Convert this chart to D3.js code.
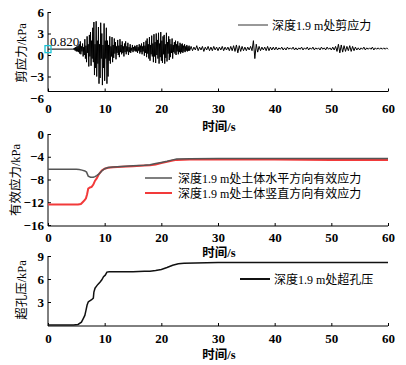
<!DOCTYPE html>
<html><head><meta charset="utf-8">
<script src="https://cdn.jsdelivr.net/npm/d3@7"></script>
<style>
body{margin:0;background:#fff;}
svg{display:block;}
</style></head><body>
<svg id="c" width="406" height="365"></svg>
<script>
// ---------- data ----------
const xTicks = [0, 10, 20, 30, 40, 50, 60];
const shearTicks = [6, 3, 0, -3, -6];
const effTicks = [0, -4, -8, -12, -16];
const poreTicks = [3, 6, 9];

// shear stress: quiet start
const shearQuietTime = [0, 4.4];
const shearQuietVal = [0.82, 0.82];
// strong shaking, samples every 0.1 s from 4.5 s
const shearAStart = 4.5, shearAStep = 0.1;
const shearAVal = [
 0.9,0.7,1.0,0.6,1.1,0.5,1.2,0.5,1.3,0.4,
 1.5,0.2,1.9,0.1,1.2,0.5,1.6,-0.2,1.1,0.0,
 2.2,-0.5,1.3,-1.0,2.6,0.3,1.5,-1.6,2.8,-0.2,
 3.2,-1.5,2.0,-0.5,3.8,-1.0,4.6,-2.8,1.5,-1.8,
 4.7,-3.0,2.0,-1.2,3.9,-4.0,1.5,-3.2,4.5,-0.5,
 3.0,-4.2,1.4,-1.8,4.4,-3.6,2.0,-0.5,3.8,-4.0,
 2.0,-3.0,1.4,-0.8,2.6,-1.2,1.2,-0.2,2.5,-1.0,
 1.4,-0.4,2.3,0.2,1.8,-0.6,1.2,0.3,2.1,0.0,
 1.3,-0.3,2.2,0.4,1.4,0.1,1.9,0.3,1.2,-0.2,
 1.6,0.4,1.9,0.1,1.2,0.5,1.7,0.0,1.1,0.4,
 1.5,0.3,1.0,0.6,1.4,0.4,1.1,0.6,1.3,0.5,
 1.2,0.5,1.4,0.3,1.1,0.6,1.5,0.2,1.3,0.4,
 1.6,0.1,1.2,0.5,1.8,-0.1,1.3,0.3,2.0,-0.3,
 2.3,0.2,1.5,-0.5,2.5,-0.8,1.4,0.1,2.7,-0.2,
 1.6,-1.0,2.9,-0.2,1.8,-1.1,3.0,0.0,2.1,-0.5,
 3.1,-1.2,1.6,-0.3,3.2,-0.8,2.0,-1.1,2.6,0.1,
 2.8,-1.2,1.5,-0.4,3.1,-0.9,1.8,0.2,2.6,-0.7,
 2.2,-0.3,1.5,0.3,2.3,-0.5,1.4,0.4,1.8,0.2,
 2.0,0.0,1.5,0.5,1.9,0.1,1.3,0.4,1.7,0.2,
 1.5,0.4,1.6,0.3,1.3,0.5,1.5,0.4,1.2,0.6,
 1.4,0.5,1.2,0.6,1.3,0.6
];
// tail, samples every 0.25 s from 25.25 s
const shearBStart = 25.25, shearBStep = 0.25;
const shearBVal = [
 1.2,0.6,1.1,0.7,1.3,0.6,1.1,0.7,1.2,0.5,
 1.1,0.7,1.2,0.6,1.1,0.6,1.2,0.7,1.1,0.6,
 1.1,0.7,1.2,0.6,1.1,0.7,1.1,0.6,1.2,0.6,
 1.3,0.5,1.4,0.3,1.3,0.5,1.2,0.6,1.1,0.6,
 1.1,0.7,1.2,0.6,2.0,-0.5,1.5,0.4,1.2,0.6,
 1.1,0.7,1.1,0.6,1.2,0.6,1.1,0.7,1.1,0.7,
 1.1,0.7,1.0,0.8,1.1,0.7,1.0,0.7,1.1,0.8,
 1.0,0.8,1.1,0.7,1.0,0.7,1.0,0.8,1.1,0.7,
 1.0,0.8,1.1,0.7,1.0,0.8,1.1,0.7,1.0,0.8,
 1.0,0.7,1.1,0.8,1.0,0.7,1.1,0.8,1.0,0.7,
 1.1,0.7,1.2,0.5,1.5,0.3,1.4,0.4,1.3,0.5,
 1.2,0.6,1.3,0.5,1.2,0.6,1.1,0.7,1.0,0.7,
 1.0,0.8,1.1,0.7,1.0,0.8,1.0,0.8,1.1,0.7,
 1.0,0.8,1.0,0.8,1.0,0.8,1.0,0.8,1.0,0.8
];
const markerTime = 0, markerVal = 0.82, markerLabel = "0.820";

// effective stresses
const horizTime = [0,5.0,5.5,6.0,6.5,6.8,7.1,7.5,8.0,8.3,8.6,9.0,9.5,10.0,10.6,11.5,13,15,17,18,19,20,21,22,22.7,25,30,40,50,60];
const horizVal = [-6.2,-6.2,-6.25,-6.35,-6.5,-6.7,-7.4,-7.6,-7.6,-7.5,-7.3,-7.0,-6.5,-6.1,-5.9,-5.8,-5.7,-5.6,-5.5,-5.4,-5.2,-5.0,-4.8,-4.55,-4.4,-4.35,-4.3,-4.3,-4.3,-4.3];
const vertTime = [0,5.3,5.8,6.2,6.5,6.7,6.9,7.1,7.4,7.7,8.0,8.3,8.6,8.9,9.2,9.5,10.0,10.6,11.5,13,15,17,18,19,20,21,22,22.7,25,30,40,50,60];
const vertVal = [-12.4,-12.4,-12.3,-11.9,-11.6,-11.3,-10.6,-9.6,-9.4,-9.3,-8.9,-8.2,-7.8,-7.2,-6.8,-6.4,-6.1,-5.95,-5.85,-5.75,-5.65,-5.55,-5.5,-5.35,-5.1,-4.9,-4.65,-4.55,-4.5,-4.5,-4.5,-4.55,-4.55];

// excess pore pressure
const poreTime = [0,4.5,5.3,5.9,6.2,6.5,6.7,6.9,7.1,7.3,7.7,8.0,8.1,8.3,8.5,8.8,9.2,9.5,9.8,10.1,10.4,10.8,11.5,13,15,17,18,19,20,21,22,23,24,26,30,40,50,60];
const poreVal = [0,0,0.07,0.37,0.8,1.25,1.9,2.6,3.0,3.1,3.3,3.5,4.3,4.8,5.0,5.3,5.6,5.9,6.3,6.5,6.9,6.95,6.95,6.95,6.95,7.0,7.0,7.1,7.25,7.5,7.8,8.0,8.05,8.1,8.15,8.15,8.15,8.15];

const legend1 = "深度1.9 m处剪应力";
const legend2a = "深度1.9 m处土体水平方向有效应力";
const legend2b = "深度1.9 m处土体竖直方向有效应力";
const legend3 = "深度1.9 m处超孔压";
const xTitle = "时间/s";
const yTitle1 = "剪应力/kPa", yTitle2 = "有效应力/kPa", yTitle3 = "超孔压/kPa";

// ---------- drawing ----------
const FONT = "'Liberation Serif','Noto Sans CJK SC',serif";
const svg = d3.select("#c");
const x = d3.scaleLinear().domain([0, 60]).range([48, 388]);

function panel(opts){
  const g = svg.append("g");
  const y = opts.y;
  g.append("line").attr("x1",48).attr("x2",48).attr("y1",opts.top).attr("y2",opts.axisY).attr("stroke","#000").attr("stroke-width",1);
  g.append("line").attr("x1",48).attr("x2",388).attr("y1",opts.axisY).attr("y2",opts.axisY).attr("stroke","#000").attr("stroke-width",1);
  const ya = g.append("g").attr("transform","translate(48,0)")
    .call(d3.axisLeft(y).tickValues(opts.yTicks).tickSize(-3).tickPadding(4).tickFormat(d3.format("d")));
  ya.select(".domain").remove();
  ya.selectAll(".tick text").text(d=>d<0?"\u2212"+Math.abs(d):d);
  ya.selectAll(".tick line").attr("opacity", d => (y(d) > opts.axisY + 0.5) ? 0 : 1);
  const xa = g.append("g").attr("transform",`translate(0,${opts.axisY})`)
    .call(d3.axisBottom(x).tickValues(xTicks).tickSize(-3).tickPadding(opts.xPad));
  xa.select(".domain").remove();
  g.selectAll(".tick text").style("font-size","13px").style("font-weight","bold");
  g.append("text").attr("x",219).attr("y",opts.xTitleY).attr("text-anchor","middle")
    .style("font-size","12.5px").style("font-weight","bold").text(xTitle);
  g.append("text").attr("transform",`translate(${opts.yTitleX},${opts.yTitleC}) rotate(-90)`)
    .attr("text-anchor","middle").style("font-size","12.5px").text(opts.yTitle);
  return g;
}

// Panel 1
const y1 = d3.scaleLinear().domain([-6, 6]).range([98, 12]);
const g1 = panel({y:y1, top:12, axisY:91.5, yTicks:shearTicks, xPad:12, xTitleY:131, yTitleX:26, yTitleC:53, yTitle:yTitle1});
const shearPts = [];
shearQuietTime.forEach((t,i)=>shearPts.push([t, shearQuietVal[i]]));
shearAVal.forEach((v,i)=>shearPts.push([shearAStart + i*shearAStep, v]));
shearBVal.forEach((v,i)=>shearPts.push([shearBStart + i*shearBStep, v]));
const line1 = d3.line().x(d=>x(d[0])).y(d=>y1(d[1]));
g1.append("path").datum(shearPts).attr("d",line1).attr("fill","none").attr("stroke","#000").attr("stroke-width",1);
g1.append("rect").attr("x",x(markerTime)-3).attr("y",y1(markerVal)-3.5).attr("width",6).attr("height",7)
  .attr("fill","none").attr("stroke","#19c3d6").attr("stroke-width",1.3);
g1.append("text").attr("x",50).attr("y",46).style("font-size","13px").text(markerLabel);
g1.append("line").attr("x1",238).attr("x2",268).attr("y1",25).attr("y2",25).attr("stroke","#333").attr("stroke-width",1);
g1.append("text").attr("x",272).attr("y",29.5).style("font-size","12px").text(legend1);

// Panel 2
const y2 = d3.scaleLinear().domain([-16, 0]).range([225, 134]);
const g2 = panel({y:y2, top:134, axisY:226, yTicks:effTicks, xPad:7, xTitleY:257, yTitleX:20, yTitleC:180, yTitle:yTitle2});
const line2 = d3.line().x(d=>x(d[0])).y(d=>y2(d[1]));
g2.append("path").datum(vertTime.map((t,i)=>[t,vertVal[i]])).attr("d",line2).attr("fill","none").attr("stroke","#f23a3a").attr("stroke-width",2);
g2.append("path").datum(horizTime.map((t,i)=>[t,horizVal[i]])).attr("d",line2).attr("fill","none").attr("stroke","#555").attr("stroke-width",1.5);
g2.append("line").attr("x1",145).attr("x2",172).attr("y1",178).attr("y2",178).attr("stroke","#555").attr("stroke-width",1.5);
g2.append("text").attr("x",178).attr("y",182.5).style("font-size","12px").text(legend2a);
g2.append("line").attr("x1",145).attr("x2",172).attr("y1",193).attr("y2",193).attr("stroke","#f23a3a").attr("stroke-width",2);
g2.append("text").attr("x",178).attr("y",197.5).style("font-size","12px").text(legend2b);

// Panel 3
const y3 = d3.scaleLinear().domain([0, 9]).range([325, 256]);
const g3 = panel({y:y3, top:256, axisY:326, yTicks:poreTicks, xPad:8, xTitleY:359, yTitleX:26, yTitleC:290, yTitle:yTitle3});
const line3 = d3.line().x(d=>x(d[0])).y(d=>y3(d[1]));
g3.append("path").datum(poreTime.map((t,i)=>[t,poreVal[i]])).attr("d",line3).attr("fill","none").attr("stroke","#111").attr("stroke-width",1.5);
g3.append("line").attr("x1",240).attr("x2",270).attr("y1",279).attr("y2",279).attr("stroke","#111").attr("stroke-width",2);
g3.append("text").attr("x",274).attr("y",283.5).style("font-size","12px").text(legend3);

// fonts on every text
svg.selectAll("g").attr("font-family", null).attr("font-size", null);
svg.selectAll("text").style("font-family", FONT).style("fill", "#000");
</script>
</body></html>
